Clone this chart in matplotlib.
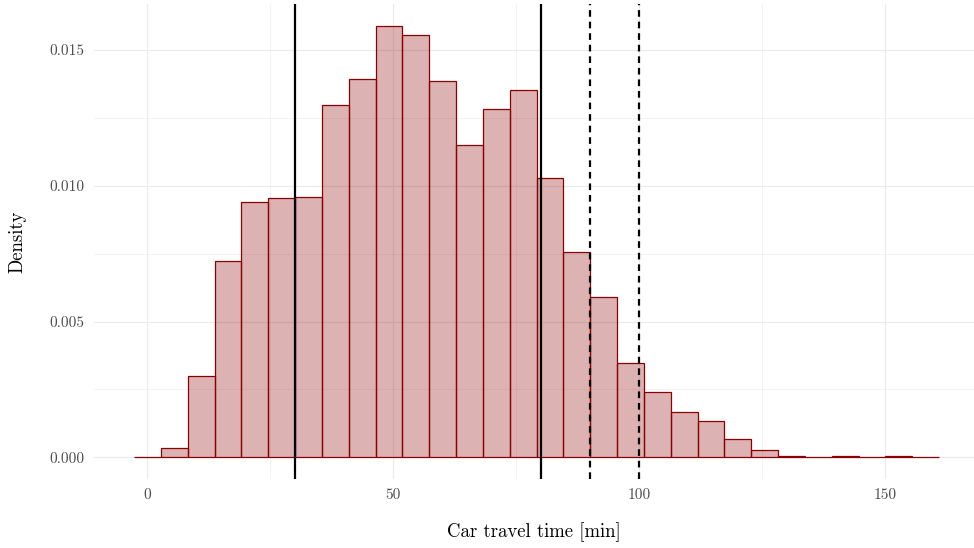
import numpy as np
import matplotlib
matplotlib.use("Agg")
import matplotlib.pyplot as plt
from matplotlib.ticker import MultipleLocator, FormatStrFormatter

# histogram (30 bins, density) of car travel time
bin_width = 5.458
bin_centers = np.arange(30) * bin_width
density = [0.00001, 0.00034, 0.00299, 0.00722, 0.00940, 0.00955, 0.00958,
           0.01297, 0.01393, 0.01589, 0.01555, 0.01386, 0.01150, 0.01283,
           0.01353, 0.01028, 0.00756, 0.00590, 0.00346, 0.00240, 0.00168,
           0.00133, 0.00066, 0.00028, 0.00005, 0.00001, 0.00004, 0.00003,
           0.00006, 0.00001]
solid_lines = [30, 80]
dashed_lines = [90, 100]

plt.rcParams['font.family'] = 'serif'
plt.rcParams['font.serif'] = ['cmr10']
plt.rcParams['axes.formatter.use_mathtext'] = True
plt.rcParams['mathtext.fontset'] = 'cm'

fig = plt.figure(figsize=(9.74, 5.48), dpi=100)
ax = fig.add_axes([94/974, 1-479/548, (974-94)/974, (479-4)/548])

ax.bar(bin_centers, density, width=bin_width, facecolor=(0.545, 0, 0, 0.3),
       edgecolor='#8B0000', linewidth=0.9, zorder=2)
for x in solid_lines:
    ax.axvline(x, color='black', linewidth=1.6, zorder=3)
for x in dashed_lines:
    ax.axvline(x, color='black', linewidth=1.6, linestyle=(0, (3, 2.2)), zorder=3)

ax.set_xlim(-10.88, 168.1)
ymax = max(density)
ax.set_ylim(-0.05*ymax, 1.05*ymax)

ax.xaxis.set_major_locator(MultipleLocator(50))
ax.xaxis.set_minor_locator(MultipleLocator(25))
ax.yaxis.set_major_locator(MultipleLocator(0.005))
ax.yaxis.set_minor_locator(MultipleLocator(0.0025))
ax.yaxis.set_major_formatter(FormatStrFormatter('%.3f'))
ax.xaxis.set_major_formatter(FormatStrFormatter('%d'))

ax.grid(which='major', color='#EBEBEB', linewidth=0.8, zorder=0)
ax.grid(which='minor', color='#EBEBEB', linewidth=0.4, zorder=0)
ax.set_axisbelow(True)
for s in ax.spines.values():
    s.set_visible(False)
ax.tick_params(which='both', length=0, labelsize=11, labelcolor='#4D4D4D', pad=7)

ax.set_xlabel('Car travel time [min]', fontsize=13.5, labelpad=14)
ax.set_ylabel('Density', fontsize=13.5, labelpad=16)

fig.savefig('out.png', dpi=100)
